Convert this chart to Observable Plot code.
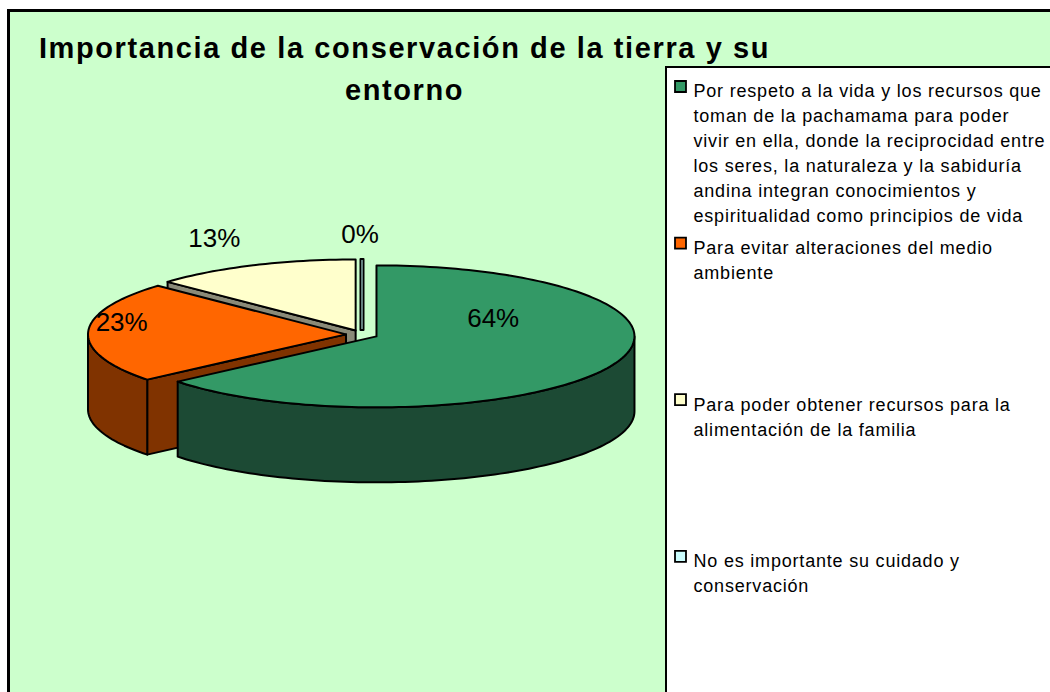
<!DOCTYPE html>
<html><head><meta charset="utf-8">
<script src="https://cdn.jsdelivr.net/npm/d3@7"></script>
<script src="https://cdn.jsdelivr.net/npm/@observablehq/plot@0.6"></script>
<style>
html,body{margin:0;padding:0;background:#fff;overflow:hidden;width:1050px;height:692px;}
#chartArea{position:absolute;left:7px;top:9px;width:1100px;height:760px;background:#CCFFCC;border:3px solid #000;box-sizing:border-box;}
#legendBox{position:absolute;left:665px;top:66px;width:500px;height:700px;background:#fff;border:2px solid #000;box-sizing:border-box;}
#plot{position:absolute;left:0;top:0;}
</style></head><body>
<div id="chartArea"></div><div id="legendBox"></div><div id="plot"></div>
<script>
// ---- data ----
const categories = [
  "Por respeto a la vida y los recursos que toman de la pachamama para poder vivir en ella, donde la reciprocidad entre los seres, la naturaleza y la sabiduría andina integran conocimientos y espiritualidad como principios de vida",
  "Para evitar alteraciones del medio ambiente",
  "Para poder obtener recursos para la alimentación de la familia",
  "No es importante su cuidado y conservación"
];
const values = [64, 23, 13, 0];
const valueLabels = ["64%", "23%", "13%", "0%"];
const legendLines = [
  ["Por respeto a la vida y los recursos que", "toman de la pachamama para poder", "vivir en ella, donde la reciprocidad entre", "los seres, la naturaleza y la sabiduría", "andina integran conocimientos y", "espiritualidad como principios de vida"],
  ["Para evitar alteraciones del medio", "ambiente"],
  ["Para poder obtener recursos para la", "alimentación de la familia"],
  ["No es importante su cuidado y", "conservación"]
];
const titleLines = ["Importancia de la conservación de la tierra y su", "entorno"];
const topColors = ["#339966", "#FF6600", "#FFFFCC", "#CCFFFF"];
const sideColors = ["#1C4A34", "#803300", "#8A8A78", "#99BFBF"];

// ---- layout (pixels) ----
const W = 1050, H = 692;
const cx = 361.5, cy = 334, rx = 258, ry = 71, depth = 75, explode = 16;
const labelRadius = [0.5, 0.87, 1.38, 1.35];
const labelNudge = [[0, -33], [0, -10], [0, -2], [-2, 0]];

const arcs = d3.pie().sort(null).value(d => d)(values);
const step = Math.PI / 120;
function arcPts(a0, a1, ox, oy, dz) {
  const n = Math.max(1, Math.ceil((a1 - a0) / step));
  const pts = [];
  for (let k = 0; k <= n; k++) {
    const a = a0 + (a1 - a0) * k / n;
    pts.push([ox + rx * Math.sin(a), oy - ry * Math.cos(a) + dz]);
  }
  return pts;
}

const slices = arcs.map((a, i) => {
  const mid = (a.startAngle + a.endAngle) / 2;
  const ox = cx + explode * Math.sin(mid);
  const oy = cy - explode * (ry / rx) * Math.cos(mid);
  return {i, s: a.startAngle, e: a.endAngle, mid, ox, oy};
});

// painter's order: back slices first
const order = slices.slice().sort((a, b) => Math.cos(b.mid) - Math.cos(a.mid));
const rows = [];
let pid = 0;
function addPoly(pts, fill) {
  const id = pid++;
  for (const [x, y] of pts) rows.push({id, x, y, fill});
}
for (const sl of order) {
  const {i, s, e, ox, oy} = sl;
  if (e - s < 1e-9) {
    // empty slice: drawn as its two coincident radial edges (thin sliver)
    const r0 = [ox + rx * Math.sin(s), oy - ry * Math.cos(s)];
    addPoly([[ox - 1.5, oy], [r0[0] - 1.5, r0[1]], [r0[0] + 1.5, r0[1]], [ox + 1.5, oy]], topColors[i]);
    continue;
  }
  // radial face at start angle
  if (Math.cos(s - Math.PI / 2) < -1e-9) {
    const r0 = [ox + rx * Math.sin(s), oy - ry * Math.cos(s)];
    addPoly([[ox, oy], r0, [r0[0], r0[1] + depth], [ox, oy + depth]], sideColors[i]);
  }
  // radial face at end angle
  if (Math.cos(e + Math.PI / 2) < -1e-9) {
    const r1 = [ox + rx * Math.sin(e), oy - ry * Math.cos(e)];
    addPoly([[ox, oy], r1, [r1[0], r1[1] + depth], [ox, oy + depth]], sideColors[i]);
  }
  // outer front wall
  const a0 = Math.max(s, Math.PI / 2), a1 = Math.min(e, 3 * Math.PI / 2);
  if (a1 > a0) {
    const topArc = arcPts(a0, a1, ox, oy, 0);
    const botArc = arcPts(a0, a1, ox, oy, depth).reverse();
    addPoly(topArc.concat(botArc), sideColors[i]);
  }
  // top face
  addPoly([[ox, oy]].concat(arcPts(s, e, ox, oy, 0)), topColors[i]);
}

const labelRows = slices.map(sl => ({
  x: sl.ox + labelRadius[sl.i] * rx * Math.sin(sl.mid) + labelNudge[sl.i][0],
  y: sl.oy - labelRadius[sl.i] * ry * Math.cos(sl.mid) + labelNudge[sl.i][1],
  text: valueLabels[sl.i]
}));

const legendBaseline0 = 92, legendStep = 156.6;
const legendRows = categories.map((c, i) => ({
  category: c,
  color: topColors[i],
  text: legendLines[i].join("\n"),
  baseline: legendBaseline0 + i * legendStep
}));

const font = "'Liberation Sans', Arial, sans-serif";
const chart = Plot.plot({
  width: W, height: H, margin: 0,
  x: {domain: [0, W], range: [0, W], axis: null},
  y: {domain: [0, H], range: [0, H], axis: null},
  color: {type: "identity"},
  style: {background: "transparent", fontFamily: font},
  marks: [
    Plot.text([titleLines.join("\n")], {
      x: () => 404, y: () => 48 - 0.71 * 29, text: d => d,
      fontSize: 29, fontWeight: "bold", lineAnchor: "top", lineHeight: 42 / 29, fill: "#000"
    }),
    Plot.line(rows, {
      x: "x", y: "y", z: "id", fill: "fill", stroke: "#000", strokeWidth: 2,
      strokeLinejoin: "round", curve: "linear-closed"
    }),
    Plot.text(labelRows, {x: "x", y: "y", text: "text", fontSize: 26, fill: "#000"}),
    Plot.dot(legendRows, {
      x: () => 680, y: d => d.baseline - 6, symbol: "square", r: 6.2,
      fill: "color", stroke: "#000", strokeWidth: 1.8
    }),
    Plot.text(legendRows, {
      x: () => 693, y: d => d.baseline - 0.71 * 18, text: "text",
      textAnchor: "start", lineAnchor: "top", fontSize: 18, lineHeight: 25 / 18, fill: "#000"
    })
  ]
});
const textGroups = chart.querySelectorAll("g[aria-label='text']");
if (textGroups[0]) textGroups[0].style.letterSpacing = "1.6px";
if (textGroups[2]) textGroups[2].style.letterSpacing = "0.8px";
document.getElementById("plot").appendChild(chart);
</script>
</body></html>
